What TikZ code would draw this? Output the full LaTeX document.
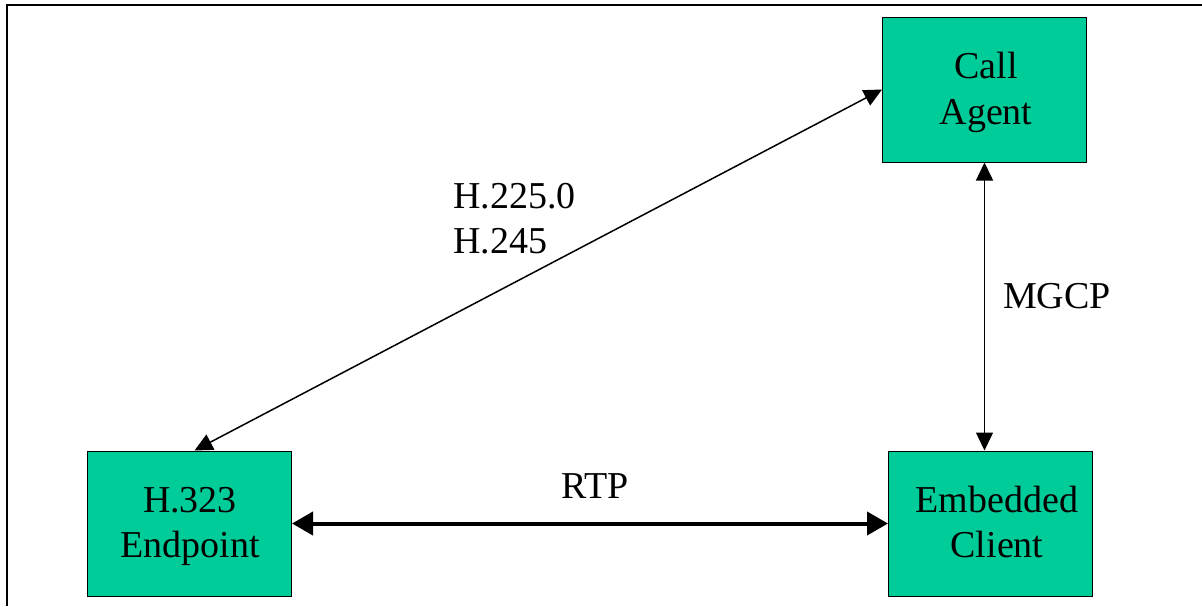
\documentclass[tikz,border=0pt]{standalone}
\usepackage{fontspec}
\setmainfont{Liberation Serif}
\usetikzlibrary{arrows.meta}
\definecolor{boxgreen}{RGB}{0,204,153}
\tikzset{
  box/.style={draw=black, line width=1pt, fill=boxgreen, minimum width=204pt, minimum height=145pt, inner sep=0pt},
  txt/.style={anchor=base, inner sep=0pt, font=\fontsize{38}{44}\selectfont},
  ltxt/.style={anchor=base west, inner sep=0pt, font=\fontsize{38}{44}\selectfont},
  thin arrow/.style={line width=1.5pt, {Triangle[length=18pt,width=17pt]}-{Triangle[length=18pt,width=17pt]}},
  thick arrow/.style={line width=4pt, {Triangle[length=21pt,width=23pt]}-{Triangle[length=21pt,width=23pt]}},
}
\begin{document}
\begin{tikzpicture}[x=1pt,y=-1pt]
\useasboundingbox (0,0) rectangle (1202,606);
% frame (left and top only)
\draw[line width=2.5pt] (7,606) -- (7,5) -- (1202,5);
% boxes
\node[box] (ca) at (984.5,89.5) {};
\node[box] (ep) at (189.5,523.5) {};
\node[box] (ec) at (990.5,523.5) {};
% box texts
\node[txt] (ca1) at (986,78) {Call};
\node[txt] (ca2) at (986,124) {Agent};
\node[txt] (ep1) at (190,512) {H.323};
\node[txt] (ep2) at (190,557) {Endpoint};
\node[txt] (ec1) at (997,512) {Embedded};
\node[txt] (ec2) at (997,557) {Client};
% connectors
\draw[thin arrow] ([xshift=5pt]ep.north) -- (ca.west);
\draw[thin arrow] (ca.south) -- (ca.south |- ec.north);
\draw[thick arrow] (ep.east) -- (ec.west);
% labels
\node[ltxt] (l1) at (453,208) {H.225.0};
\node[ltxt] (l2) at (453,253.5) {H.245};
\node[ltxt] (l3) at (1003,308) {MGCP};
\node[ltxt] (l4) at (561,498) {RTP};
\end{tikzpicture}
\end{document}
